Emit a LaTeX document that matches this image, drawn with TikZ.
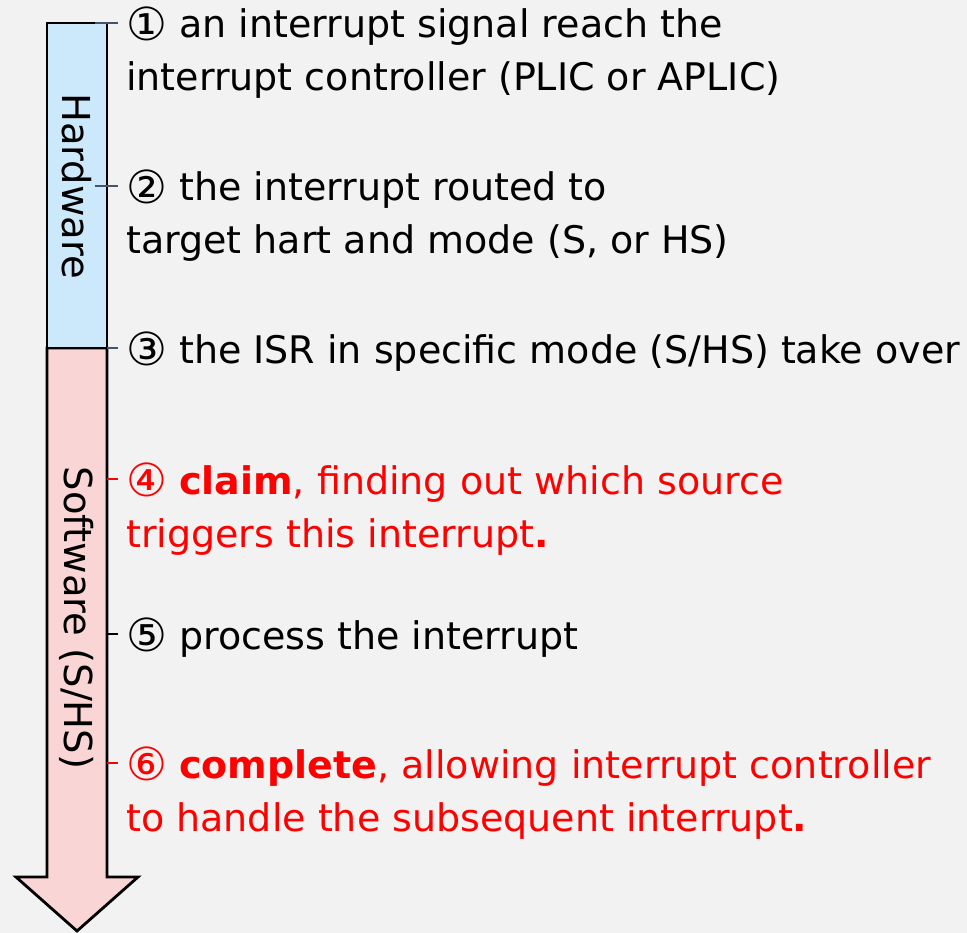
\documentclass[tikz,border=0pt]{standalone}
\usepackage{fontspec}
\setmainfont{DejaVu Sans}
\definecolor{bg}{HTML}{F2F2F2}
\definecolor{hwfill}{HTML}{CCE8FB}
\definecolor{swfill}{HTML}{FAD5D5}
\definecolor{tickblue}{HTML}{44546A}
\definecolor{hot}{HTML}{FF0000}
% enlarged circled step number
\newcommand{\stepno}[1]{\raisebox{-0.07em}{\scalebox{1.2}{#1}}}
\begin{document}
\begin{tikzpicture}[x=1pt,y=-1pt,
  item/.style={anchor=base west, inner sep=0pt, font=\fontsize{38}{46}\selectfont},
  side/.style={inner sep=0pt, rotate=-90, font=\fontsize{38.5}{46}\selectfont},
  tick/.style={line width=1.3pt},
  band/.style={draw=black, line width=2.8pt, line join=miter}]
  \useasboundingbox[fill=bg] (0,0) rectangle (967,933);

  % stage bar: hardware band and software arrow
  \draw[band, fill=swfill] (47,348) -- (107,348) -- (107,877) -- (138,877)
        -- (77,931) -- (16,877) -- (47,877) -- cycle;
  \draw[band, fill=hwfill] (47,23) rectangle (107,348);
  \node[side] (hw) at (77,186) {Hardware};
  \node[side] (sw) at (77,618) {Software (S/HS)};

  % step markers on the bar
  \coordinate (m1) at (95,23);
  \coordinate (m2) at (95,186);
  \coordinate (m3) at (107,348);
  \coordinate (m4) at (107,479);
  \coordinate (m5) at (107,634);
  \coordinate (m6) at (107,763);
  \draw[tick, tickblue] (m1) -- ++(23,0);
  \draw[tick, tickblue] (m2) -- ++(23,0);
  \draw[tick, tickblue] (m3) -- ++(11,0);
  \draw[tick, hot] (m4) -- ++(11,0);
  \draw[tick, black] (m5) -- ++(11,0);
  \draw[tick, hot] (m6) -- ++(11,0);

  % step descriptions
  \node[item] (s1a) at (126,38) {\stepno{①} an interrupt signal reach the};
  \node[item] (s1b) at (126,91) {interrupt controller (PLIC or APLIC)};
  \node[item] (s2a) at (126,201) {\stepno{②} the interrupt routed to};
  \node[item] (s2b) at (126,254) {target hart and mode (S, or HS)};
  \node[item] (s3) at (126,363) {\stepno{③} the ISR in specific mode (S/HS) take over};
  \node[item, text=hot] (s4a) at (126,494) {\stepno{④} \textbf{claim}, finding out which source};
  \node[item, text=hot] (s4b) at (126,547) {triggers this interrupt\textbf{.}};
  \node[item] (s5) at (126,649) {\stepno{⑤} process the interrupt};
  \node[item, text=hot] (s6a) at (126,778) {\stepno{⑥} \textbf{complete}, allowing interrupt controller};
  \node[item, text=hot] (s6b) at (126,831) {to handle the subsequent interrupt\textbf{.}};
\end{tikzpicture}
\end{document}
